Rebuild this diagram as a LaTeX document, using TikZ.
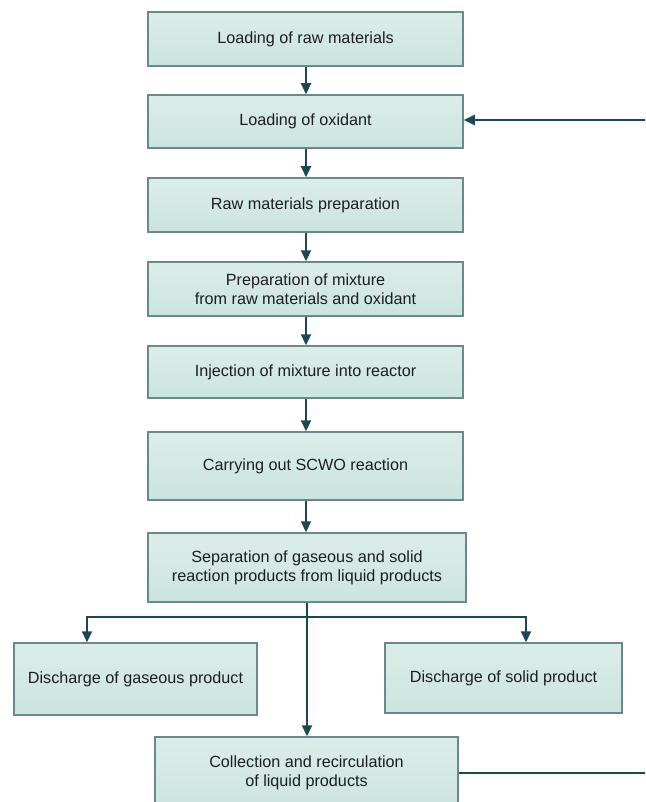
\documentclass[tikz,border=0pt]{standalone}
\usepackage{fontspec}
\setmainfont{Liberation Sans}
\usetikzlibrary{arrows.meta,calc}
\definecolor{boxfill}{HTML}{CBE4DF}
\definecolor{boxtop}{HTML}{DCEDE9}
\definecolor{boxline}{HTML}{6A8A89}
\definecolor{arrcol}{HTML}{1D4756}
\definecolor{txtcol}{HTML}{1E1E1E}
\tikzset{
  stepbox/.style={draw=boxline, line width=1.5pt, top color=boxtop, bottom color=boxfill,
    minimum width=315pt, minimum height=54pt, align=center, inner sep=2pt,
    font=\fontsize{16.2}{19}\selectfont, text=txtcol},
  arr/.style={draw=arrcol, line width=2.2pt, -{Triangle[length=11pt,width=10pt]}},
  ln/.style={draw=arrcol, line width=2.2pt}
}
\begin{document}
\begin{tikzpicture}[x=1pt,y=-1pt]
\useasboundingbox (0,0) rectangle (645,802);
\clip (0,0) rectangle (645,802);
\fill[white] (0,0) rectangle (645,802);
\node[stepbox] (b1) at (305.5,39) {Loading of raw materials};
\node[stepbox, minimum height=53pt] (b2) at (305.5,121.5) {Loading of oxidant};
\node[stepbox] (b3) at (305.5,205) {Raw materials preparation};
\node[stepbox] (b4) at (305.5,289) {Preparation of mixture\\from raw materials and oxidant};
\node[stepbox, minimum height=52pt] (b5) at (305.5,372) {Injection of mixture into reactor};
\node[stepbox, minimum height=68pt] (b6) at (305.5,466) {Carrying out SCWO reaction};
\node[stepbox, minimum width=318pt, minimum height=69pt] (b7) at (307,567.5) {Separation of gaseous and solid\\reaction products from liquid products};
\node[stepbox, minimum width=243pt, minimum height=72pt] (gas) at (135.5,679) {Discharge of gaseous product};
\node[stepbox, minimum width=237pt, minimum height=70pt] (sol) at (503.5,678) {Discharge of solid product};
\node[stepbox, minimum width=303pt, minimum height=72pt] (col) at (306.5,773) {Collection and recirculation\\of liquid products};
\coordinate (ax) at (306,0);
\draw[arr] (b1.south -| ax) -- (b2.north -| ax);
\draw[arr] (b2.south -| ax) -- (b3.north -| ax);
\draw[arr] (b3.south -| ax) -- (b4.north -| ax);
\draw[arr] (b4.south -| ax) -- (b5.north -| ax);
\draw[arr] (b5.south -| ax) -- (b6.north -| ax);
\draw[arr] (b6.south -| ax) -- (b7.north -| ax);
\coordinate (cx) at (307,0);
\draw[arr] (b7.south -| cx) -- (col.north -| cx);
\coordinate (br) at (307,617);
\coordinate (gl) at (87,617);
\coordinate (sr) at (526,617);
\draw[arr] (br) -- (gl) -- (gl |- gas.north);
\draw[arr] (br) -- (sr) -- (sr |- sol.north);
\coordinate (outr) at (650,773);
\coordinate (inr) at (650,120);
\draw[ln] (col.east |- outr) -- (outr);
\draw[arr] (inr) -- (inr -| b2.east);
\end{tikzpicture}
\end{document}
